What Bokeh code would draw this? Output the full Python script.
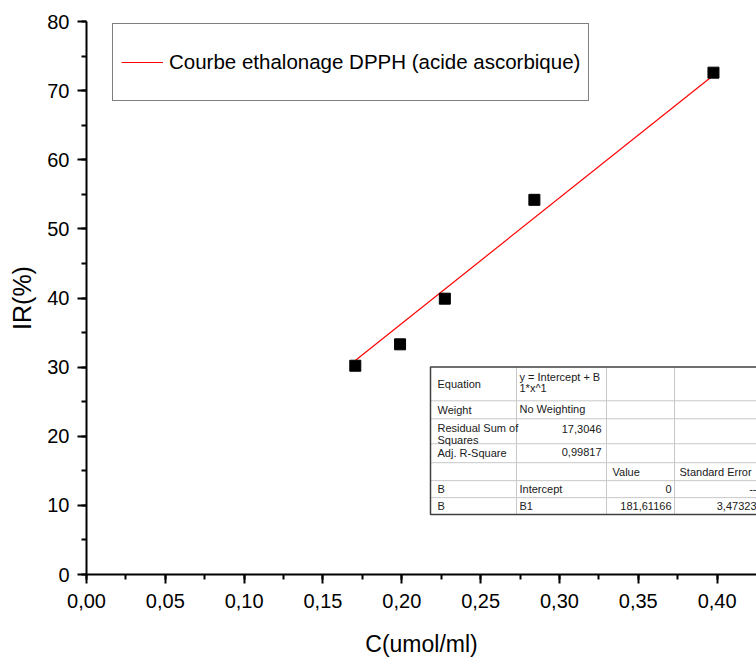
from bokeh.plotting import figure
from bokeh.models import (Range1d, SingleIntervalTicker, CustomJSTickFormatter,
                          Legend, LegendItem)
from bokeh.core.properties import value
from bokeh.embed import file_html
from bokeh.resources import INLINE

# ---------------- data ----------------
conc = [0.1705, 0.1989, 0.2273, 0.2841, 0.3977]      # C (umol/ml)
ir = [30.2, 33.3, 39.9, 54.2, 72.6]                  # IR (%)
fit_x = [0.1705, 0.3977]
fit_y = [30.96, 72.23]
legend_label = "Courbe ethalonage DPPH (acide ascorbique)"
x_title = "C(umol/ml)"
y_title = "IR(%)"

# fit table (Origin style)
eq_lines = ["y = Intercept + B", "1*x^1"]
weight = "No Weighting"
rss = "17,3046"
adj_r2 = "0,99817"
param_names = ["Intercept", "B1"]
param_values = ["0", "181,61166"]
param_errors = ["--", "3,47323"]

ARIAL = "'Liberation Sans', Arial, sans-serif"

W, H = 756, 659
L, R, T = 86, 0, 21
FW, FH = W - L - R, 554
XMAX, YMAX = 0.425, 80

p = figure(width=W, height=H, output_backend="svg", toolbar_location=None,
           x_range=Range1d(0, XMAX), y_range=Range1d(0, YMAX),
           min_border_left=L, min_border_right=R, min_border_top=T,
           min_border_bottom=H - T - FH)
p.outline_line_color = None
p.grid.visible = False
p.background_fill_color = "white"

# axes
p.xaxis.ticker = SingleIntervalTicker(interval=0.05, num_minor_ticks=2)
p.yaxis.ticker = SingleIntervalTicker(interval=10, num_minor_ticks=2)
p.xaxis.formatter = CustomJSTickFormatter(code="return tick.toFixed(2).replace('.', ',');")
for ax in (p.xaxis, p.yaxis):
    ax.axis_line_width = 2
    ax.axis_line_color = "black"
    ax.major_tick_line_width = 2
    ax.minor_tick_line_width = 2
    ax.major_tick_line_color = "black"
    ax.minor_tick_line_color = "black"
    ax.major_tick_in = 0
    ax.minor_tick_in = 0
    ax.major_tick_out = 9
    ax.minor_tick_out = 5
    ax.major_label_text_color = "black"
    ax.axis_label_text_color = "black"
    ax.axis_label_text_font_style = "normal"

p.xaxis.major_label_text_font = ARIAL
p.xaxis.major_label_text_font_size = "20px"
p.xaxis.major_label_standoff = 10
p.xaxis.axis_label = x_title
p.xaxis.axis_label_text_font = ARIAL
p.xaxis.axis_label_text_font_size = "23px"
p.xaxis.axis_label_standoff = 20

p.yaxis.major_label_text_font = ARIAL
p.yaxis.major_label_text_font_size = "20px"
p.yaxis.major_label_standoff = 8
p.yaxis.axis_label = y_title
p.yaxis.axis_label_text_font = ARIAL
p.yaxis.axis_label_text_font_size = "25px"
p.yaxis.axis_label_standoff = 8

# fit line & points
fit = p.line(fit_x, fit_y, line_color="red", line_width=1.2)
p.scatter(conc, ir, marker="square", size=11, fill_color="black", line_color="black")

# legend
leg = Legend(items=[LegendItem(label=legend_label, renderers=[fit])],
             location=(26, 473), border_line_color="black", border_line_width=1,
             padding=8, margin=0, glyph_width=42, glyph_height=60, label_height=60,
             label_standoff=6, label_text_font=ARIAL, label_text_font_size="20.5px",
             label_text_color="black", background_fill_alpha=1)
p.add_layout(leg)

# ---------------- fit table, positioned in page pixels ----------------
FL, FB = L, T + FH   # frame left / bottom in page pixels
def dx(px):
    return (px - FL) / FW * XMAX
def dy(py):
    return (FB - py) / FH * YMAX

cols = [430, 516, 606, 674, 760]
rows = [367, 401, 419, 444, 463, 481, 498, 515]

p.quad(left=[dx(cols[0])], right=[dx(cols[-1])], top=[dy(rows[0])], bottom=[dy(rows[-1])],
       fill_color="white", line_color=None)
# inner lines
p.segment(x0=[dx(cols[0])] * (len(rows) - 2), x1=[dx(cols[-1])] * (len(rows) - 2),
          y0=[dy(r) for r in rows[1:-1]], y1=[dy(r) for r in rows[1:-1]],
          line_color="#c8c8c8", line_width=1)
p.segment(x0=[dx(c) for c in cols[1:-1]], x1=[dx(c) for c in cols[1:-1]],
          y0=[dy(rows[0])] * (len(cols) - 2), y1=[dy(rows[-1])] * (len(cols) - 2),
          line_color="#c8c8c8", line_width=1)
p.quad(left=[dx(cols[0])], right=[dx(cols[-1])], top=[dy(rows[0])], bottom=[dy(rows[-1])],
       fill_color=None, line_color="#404040", line_width=1.5)

def mid(i):
    return (rows[i] + rows[i + 1]) / 2

left_cells = [
    ("Equation", cols[0] + 7, mid(0)),
    ("Weight", cols[0] + 7, mid(1)),
    ("Residual Sum of", cols[0] + 7, rows[2] + 9),
    ("Squares", cols[0] + 7, rows[2] + 21),
    ("Adj. R-Square", cols[0] + 7, mid(3)),
    ("B", cols[0] + 7, mid(5)),
    ("B", cols[0] + 7, mid(6)),
    (eq_lines[0], cols[1] + 3, rows[0] + 10),
    (eq_lines[1], cols[1] + 3, rows[0] + 21),
    (weight, cols[1] + 3, mid(1) - 1),
    (param_names[0], cols[1] + 3, mid(5)),
    (param_names[1], cols[1] + 3, mid(6)),
    ("Value", cols[2] + 6, mid(4)),
    ("Standard Error", cols[3] + 5, mid(4)),
]
right_cells = [
    (rss, cols[2] - 5, rows[2] + 10),
    (adj_r2, cols[2] - 5, mid(3) - 1),
    (param_values[0], cols[3] - 3, mid(5)),
    (param_values[1], cols[3] - 3, mid(6)),
    (param_errors[0], cols[4] - 4, mid(5)),
    (param_errors[1], cols[4] - 4, mid(6)),
]
for cells, align in ((left_cells, "left"), (right_cells, "right")):
    p.text(x=[dx(c[1]) for c in cells], y=[dy(c[2]) for c in cells], text=[c[0] for c in cells],
           text_align=align, text_baseline="middle", text_font=value(ARIAL),
           text_font_size="11px", text_color="#202020")

open("out.html", "w").write(file_html(p, INLINE))
